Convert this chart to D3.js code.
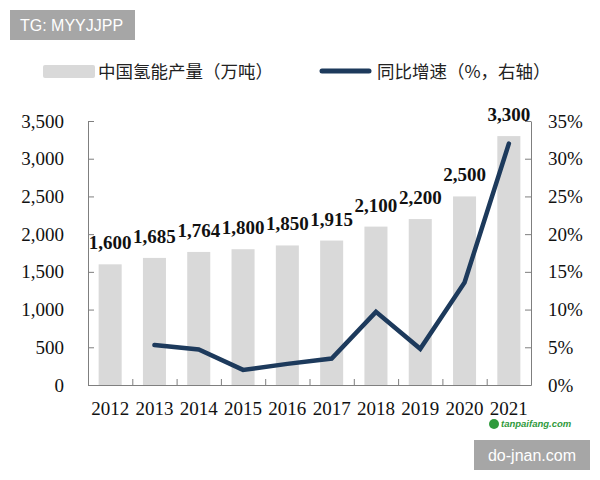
<!DOCTYPE html>
<html>
<head>
<meta charset="utf-8">
<script src="https://cdn.jsdelivr.net/npm/d3@7"></script>
<style>
  html, body { margin: 0; padding: 0; background: #fff; }
  svg { display: block; }
</style>
</head>
<body>
<svg id="chart" width="600" height="480"></svg>
<script>
const years = ["2012","2013","2014","2015","2016","2017","2018","2019","2020","2021"];
const output = [1600, 1685, 1764, 1800, 1850, 1915, 2100, 2200, 2500, 3300];
const growthYears = ["2013","2014","2015","2016","2017","2018","2019","2020","2021"];
const growth = [5.3, 4.7, 2.0, 2.8, 3.5, 9.7, 4.8, 13.6, 32.0];
const leftTicks = [0, 500, 1000, 1500, 2000, 2500, 3000, 3500];
const rightTicks = [0, 5, 10, 15, 20, 25, 30, 35];
const barName = "中国氢能产量（万吨）";
const lineName = "同比增速（%，右轴）";

(function () {
const svg = d3.select("#chart");
const pLeft = 88, pRight = 531, pTop = 121, pBottom = 385;
const serif = "'Liberation Serif','Times New Roman',serif";
const cjk = "'Noto Sans CJK SC','Noto Sans CJK JP',sans-serif";
const axisColor = "#7f7f7f";
const barColor = "#d9d9d9";
const lineColor = "#1d3a5c";

const x = d3.scaleBand().domain(years).range([pLeft, pRight]).paddingInner(0.48).paddingOuter(0.24);
const yL = d3.scaleLinear().domain([0, 3500]).range([pBottom, pTop]);
const yR = d3.scaleLinear().domain([0, 35]).range([pBottom, pTop]);

// bars
svg.append("g").selectAll("rect").data(years).join("rect")
  .attr("x", d => x(d))
  .attr("width", x.bandwidth())
  .attr("y", (d, i) => yL(output[i]))
  .attr("height", (d, i) => yL(0) - yL(output[i]) + 1)
  .attr("fill", barColor);

// left axis
const gL = svg.append("g").attr("transform", `translate(${pLeft},0)`)
  .call(d3.axisLeft(yL).tickValues(leftTicks).tickSizeInner(-6).tickSizeOuter(-6).tickPadding(24)
    .tickFormat(d3.format(",")));
gL.selectAll("path,line").attr("stroke", axisColor);
gL.selectAll("text").attr("font-family", serif).attr("font-size", 19).attr("fill", "#111");

// right axis
const gR = svg.append("g").attr("transform", `translate(${pRight},0)`)
  .call(d3.axisRight(yR).tickValues(rightTicks).tickSizeInner(-6).tickSizeOuter(0).tickPadding(17)
    .tickFormat(d => d + "%"));
gR.selectAll("path,line").attr("stroke", axisColor);
gR.selectAll("text").attr("font-family", serif).attr("font-size", 19).attr("fill", "#111");

// bottom axis
const xb = d3.scalePoint().domain(d3.range(11)).range([pLeft, pRight]);
const gB = svg.append("g").attr("transform", `translate(0,${pBottom})`)
  .call(d3.axisBottom(xb).tickValues(d3.range(1, 10)).tickSizeInner(-6).tickSizeOuter(0).tickFormat(""));
gB.selectAll("path,line").attr("stroke", axisColor);

svg.append("g").selectAll("text").data(years).join("text")
  .attr("x", d => x(d) + x.bandwidth() / 2)
  .attr("y", 415)
  .attr("text-anchor", "middle")
  .attr("font-family", serif).attr("font-size", 19).attr("fill", "#111")
  .text(d => d);

// line
const line = d3.line()
  .x((d, i) => x(growthYears[i]) + x.bandwidth() / 2)
  .y(d => yR(d));
svg.append("path").datum(growth)
  .attr("d", line)
  .attr("fill", "none")
  .attr("stroke", lineColor)
  .attr("stroke-width", 4.5)
  .attr("stroke-linejoin", "miter")
  .attr("stroke-linecap", "round");

// bar labels
svg.append("g").selectAll("text").data(years).join("text")
  .attr("x", d => x(d) + x.bandwidth() / 2)
  .attr("y", (d, i) => yL(output[i]) - 15)
  .attr("text-anchor", "middle")
  .attr("font-family", serif).attr("font-size", 19).attr("font-weight", "bold").attr("fill", "#111")
  .text((d, i) => d3.format(",")(output[i]));

// legend
svg.append("rect").attr("x", 43).attr("y", 65).attr("width", 52).attr("height", 13).attr("rx", 2).attr("fill", barColor);
svg.append("text").attr("x", 98).attr("y", 72).attr("dy", "0.35em")
  .attr("font-family", cjk).attr("font-size", 17.5).attr("fill", "#222").text(barName);
svg.append("line").attr("x1", 322).attr("x2", 369).attr("y1", 71).attr("y2", 71)
  .attr("stroke", lineColor).attr("stroke-width", 5).attr("stroke-linecap", "round");
svg.append("text").attr("x", 377).attr("y", 72).attr("dy", "0.35em")
  .attr("font-family", cjk).attr("font-size", 17.5).attr("fill", "#222").text(lineName);

// watermarks
svg.append("rect").attr("x", 10).attr("y", 10).attr("width", 125).attr("height", 30).attr("fill", "#a6a6a6");
svg.append("text").attr("x", 20).attr("y", 25).attr("dy", "0.35em")
  .attr("font-family", "'Liberation Sans',Arial,sans-serif").attr("font-size", 16).attr("fill", "#fff").text("TG: MYYJJPP");
svg.append("rect").attr("x", 474).attr("y", 440).attr("width", 116).attr("height", 30).attr("fill", "#a6a6a6");
svg.append("text").attr("x", 532).attr("y", 455).attr("dy", "0.35em").attr("text-anchor", "middle")
  .attr("font-family", "'Liberation Sans',Arial,sans-serif").attr("font-size", 16).attr("fill", "#fff").text("do-jnan.com");
svg.append("circle").attr("cx", 494).attr("cy", 424).attr("r", 5).attr("fill", "#2f9a3c");
svg.append("text").attr("x", 501).attr("y", 424).attr("dy", "0.35em")
  .attr("font-family", "'Liberation Sans',Arial,sans-serif").attr("font-size", 9.5).attr("font-weight", "bold")
  .attr("font-style", "italic").attr("fill", "#2f9a3c").text("tanpaifang.com");
})();
</script>
</body>
</html>
